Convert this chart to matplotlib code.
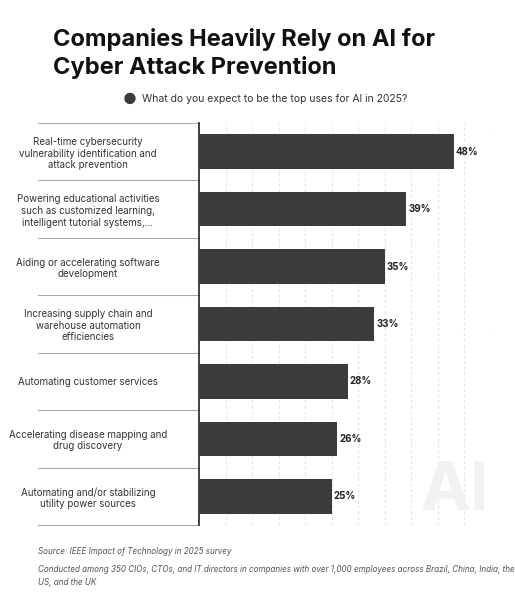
import matplotlib
matplotlib.use("Agg")
import matplotlib.pyplot as plt

categories = [
    "Real-time cybersecurity\nvulnerability identification and\nattack prevention",
    "Powering educational activities\nsuch as customized learning,\nintelligent tutorial systems,...",
    "Aiding or accelerating software\ndevelopment",
    "Increasing supply chain and\nwarehouse automation\nefficiencies",
    "Automating customer services",
    "Accelerating disease mapping and\ndrug discovery",
    "Automating and/or stabilizing\nutility power sources",
]
values = [48, 39, 35, 33, 28, 26, 25]
legend_label = "What do you expect to be the top uses for AI in 2025?"

W, H = 515, 593
fig = plt.figure(figsize=(W/100, H/100), dpi=100)
plt.rcParams['font.family'] = ['Inter', 'DejaVu Sans']
ax = fig.add_axes([199/W, 1-525/H, (491-199)/W, (525-123)/H])
n = len(values)
ys = list(range(n))
ax.barh(ys, values, height=0.6, color="#3d3a3a", zorder=3)
ax.set_xlim(0, 55)
ax.set_ylim(n-0.5, -0.5)
for g in range(5, 56, 5):
    ax.axvline(g, color="#e6e6e6", lw=0.8, ls=(0, (3, 2)), zorder=1)
for i, v in enumerate(values):
    ax.text(v+0.4, i, f"{v}%", va="center", ha="left", fontsize=7, fontweight="bold", color="#222")
ax.set_yticks(ys)
ax.set_yticklabels(categories, fontsize=7, color="#333", ha="center")
ax.tick_params(axis="y", length=0, pad=80)
ax.set_xticks([])
for s in ["top", "right", "bottom"]:
    ax.spines[s].set_visible(False)
ax.spines["left"].set_color("#222")
ax.spines["left"].set_linewidth(1.2)
for b in [i-0.5 for i in range(n+1)]:
    ax.plot([-161/292*55, 0], [b, b], color="#aaaaaa", lw=0.8, clip_on=False, zorder=2)

fig.text(53/W, 1-28/H, "Companies Heavily Rely on AI for\nCyber Attack Prevention", fontsize=17,
         fontweight="bold", va="top", ha="left", color="#111", linespacing=1.3)
fig.text(130/W, 1-99/H, "●", fontsize=11, color="#3d3a3a", va="center", ha="center")
fig.text(142/W, 1-99/H, legend_label, fontsize=7.5, color="#333", va="center", ha="left")
fig.text(420/W, 1-493/H, "AI", fontsize=48, fontweight="bold", color="#f2f2f2", va="center", ha="left", zorder=0)
fig.text(38/W, 1-552/H, "Source: IEEE Impact of Technology in 2025 survey", fontsize=5.8, style="italic", color="#555", va="center")
fig.text(38/W, 1-576/H, "Conducted among 350 CIOs, CTOs, and IT directors in companies with over 1,000 employees across Brazil, China, India, the\nUS, and the UK",
         fontsize=5.8, style="italic", color="#555", va="center", linespacing=1.6)
fig.savefig("out.png", dpi=100, facecolor="white")
